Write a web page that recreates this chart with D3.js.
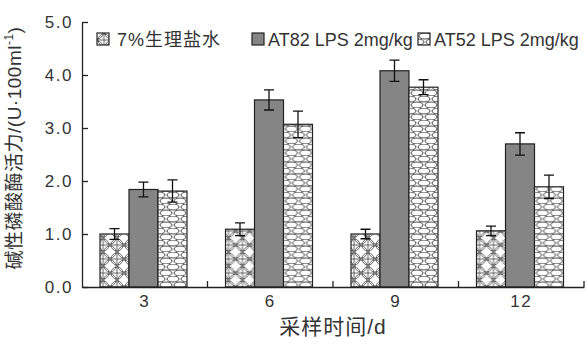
<!DOCTYPE html>
<html>
<head>
<meta charset="utf-8">
<script src="https://cdnjs.cloudflare.com/ajax/libs/d3/7.8.5/d3.min.js"></script>
<style>
  body { margin: 0; background: #fff; }
  text { font-family: "Liberation Sans", "Noto Sans CJK SC", sans-serif; fill: #333; }
</style>
</head>
<body>
<div id="chart-area"></div>
<script>
// data
var days = ["3", "6", "9", "12"];
var groups = ["7%生理盐水", "AT82 LPS 2mg/kg", "AT52 LPS 2mg/kg"];
var saline = [1.00, 1.09, 1.00, 1.06];
var salineErr = [0.10, 0.12, 0.09, 0.09];
var at82 = [1.84, 3.53, 4.08, 2.70];
var at82Err = [0.14, 0.19, 0.20, 0.21];
var at52 = [1.81, 3.07, 3.77, 1.89];
var at52Err = [0.21, 0.25, 0.14, 0.22];
var yTicks = [0, 1, 2, 3, 4, 5];

var W = 587, H = 345;
var plotLeft = 82, plotRight = 584, plotTop = 22, plotBottom = 287;

var svg = d3.select("#chart-area").append("svg")
    .attr("width", W)
    .attr("height", H);

// patterns
var defs = svg.append("defs");
var p1 = defs.append("pattern").attr("id", "pat-saline")
    .attr("patternUnits", "userSpaceOnUse")
    .attr("width", 14).attr("height", 14)
    .attr("x", 0).attr("y", 0);
p1.append("rect").attr("width", 14).attr("height", 14).attr("fill", "#fff");
[[0, 0], [14, 0], [0, 14], [14, 14], [7, 7]].forEach(function(c){
    p1.append("circle").attr("cx", c[0]).attr("cy", c[1]).attr("r", 6)
        .attr("fill", "none").attr("stroke", "#444").attr("stroke-width", 0.8);
});
p1.append("path").attr("d", "M0,7L14,7M7,0L7,14")
    .attr("stroke", "#444").attr("stroke-width", 0.8);

var p3 = defs.append("pattern").attr("id", "pat-at52")
    .attr("patternUnits", "userSpaceOnUse")
    .attr("width", 14).attr("height", 12);
p3.append("rect").attr("width", 14).attr("height", 12).attr("fill", "#fff");
[[7, 3], [0, 9], [14, 9]].forEach(function(c){
    p3.append("ellipse").attr("cx", c[0]).attr("cy", c[1]).attr("rx", 6).attr("ry", 3)
        .attr("fill", "none").attr("stroke", "#333").attr("stroke-width", 0.9);
});

var fills = ["url(#pat-saline)", "#858585", "url(#pat-at52)"];

var rows = days.map(function(d, i){
    return {
        day: d,
        vals: [
            {g: 0, v: saline[i], e: salineErr[i]},
            {g: 1, v: at82[i], e: at82Err[i]},
            {g: 2, v: at52[i], e: at52Err[i]}
        ]
    };
});

var x = d3.scaleBand().domain(days).range([plotLeft, plotRight]);
var xInner = d3.scaleBand().domain([0, 1, 2]).range([18, 105]);
var y = d3.scaleLinear().domain([0, 5]).range([plotBottom, plotTop]);

var gGroups = svg.selectAll("g.grp")
    .data(rows)
    .enter().append("g")
        .attr("class", "grp")
        .attr("transform", function(d){ return "translate(" + x(d.day) + ",0)"; });

gGroups.selectAll("rect")
    .data(function(d){ return d.vals; })
    .enter().append("rect")
        .attr("x", function(d){ return xInner(d.g); })
        .attr("y", function(d){ return y(d.v); })
        .attr("width", xInner.bandwidth())
        .attr("height", function(d){ return y(0) - y(d.v); })
        .attr("fill", function(d){ return fills[d.g]; })
        .attr("stroke", "#222")
        .attr("stroke-width", 1.2);

// error bars
gGroups.selectAll("path.err")
    .data(function(d){ return d.vals; })
    .enter().append("path")
        .attr("class", "err")
        .attr("d", function(d){
            var cx = xInner(d.g) + xInner.bandwidth() / 2;
            var y1 = y(d.v + d.e), y2 = y(d.v - d.e);
            return "M" + (cx - 5) + "," + y1 + "H" + (cx + 5) +
                   "M" + cx + "," + y1 + "V" + y2 +
                   "M" + (cx - 5) + "," + y2 + "H" + (cx + 5);
        })
        .attr("fill", "none")
        .attr("stroke", "#111")
        .attr("stroke-width", 1.3);

// y axis
var yAxis = d3.axisLeft(y)
    .tickValues(yTicks)
    .tickFormat(d3.format(".1f"))
    .tickSizeInner(-6)
    .tickSizeOuter(0)
    .tickPadding(9);

var gy = svg.append("g")
    .attr("transform", "translate(" + plotLeft + ",0)")
    .call(yAxis);
gy.select(".domain").attr("stroke", "#222").attr("stroke-width", 1.3);
gy.selectAll(".tick line").attr("stroke", "#222").attr("stroke-width", 1.3);
gy.selectAll(".tick text")
    .attr("font-size", "17px")
    .attr("letter-spacing", "1.5px")
    .attr("fill", "#333")
    .attr("font-family", "Liberation Sans, sans-serif");

// x axis: labels at centres, short ticks at group boundaries
var xAxis = d3.axisBottom(x).tickSize(0).tickPadding(8);
var gx = svg.append("g")
    .attr("transform", "translate(0," + plotBottom + ")")
    .call(xAxis);
gx.select(".domain").attr("stroke", "#222").attr("stroke-width", 1.3);
gx.selectAll(".tick text")
    .attr("font-size", "17px")
    .attr("letter-spacing", "1.5px")
    .attr("fill", "#333")
    .attr("font-family", "Liberation Sans, sans-serif");

gx.selectAll("line.bound")
    .data(days)
    .enter().append("line")
        .attr("class", "bound")
        .attr("x1", function(d){ return x(d) + x.bandwidth(); })
        .attr("x2", function(d){ return x(d) + x.bandwidth(); })
        .attr("y1", 0)
        .attr("y2", -6)
        .attr("stroke", "#222")
        .attr("stroke-width", 1.3);

// axis titles
svg.append("text")
    .attr("x", (plotLeft + plotRight) / 2)
    .attr("y", 334)
    .attr("text-anchor", "middle")
    .attr("font-size", "21px")
    .attr("letter-spacing", "1px")
    .text("采样时间/d");

var yt = svg.append("text")
    .attr("transform", "translate(21,148) rotate(-90)")
    .attr("text-anchor", "middle")
    .attr("font-size", "19px")
    .attr("letter-spacing", "0.5px");
yt.append("tspan").text("碱性磷酸酶活力/(U·100ml");
yt.append("tspan").attr("dy", -8).attr("font-size", "12px").text("-1");
yt.append("tspan").attr("dy", 8).text(")");

// legend
var legendX = [97, 252, 418];
var leg = svg.selectAll("g.leg")
    .data(groups)
    .enter().append("g")
        .attr("class", "leg")
        .attr("transform", function(d, i){ return "translate(" + legendX[i] + ",33)"; });
leg.append("rect")
    .attr("width", 12).attr("height", 12)
    .attr("fill", function(d, i){ return fills[i]; })
    .attr("stroke", "#222")
    .attr("stroke-width", 1.2);
leg.append("text")
    .attr("x", function(d, i){ return i === 0 ? 20 : 16; })
    .attr("y", 13)
    .attr("font-size", "18px")
    .attr("letter-spacing", function(d, i){ return i === 0 ? "1px" : "0px"; })
    .text(function(d){ return d; });
</script>
</body>
</html>
